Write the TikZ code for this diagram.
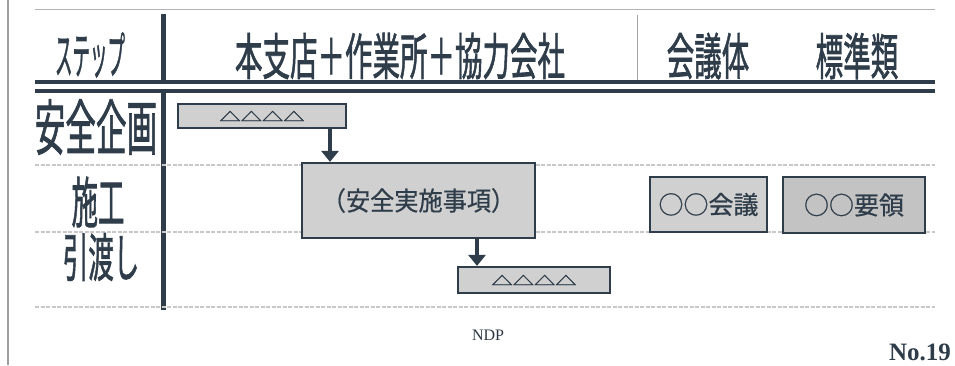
\documentclass[tikz,border=0pt]{standalone}
\usepackage{fontspec}
\setmainfont{Liberation Serif}
\newfontfamily\jp{Noto Sans CJK JP}[FakeBold=0.6]
\newfontfamily\jpb{Noto Sans CJK JP}[FakeBold=1.6]
\usetikzlibrary{arrows.meta}
\definecolor{ink}{HTML}{2F3D4A}
\definecolor{boxfill}{HTML}{D0D0D0}
\definecolor{boxfilld}{HTML}{C3C3C3}
\definecolor{sep}{HTML}{C8C8C8}
\newcommand{\jt}[3]{\scalebox{#2}[1]{\jp\fontsize{#1}{#1}\selectfont #3}}
\newcommand{\jb}[3]{\scalebox{#2}[1]{\jpb\fontsize{#1}{#1}\selectfont #3}}
\begin{document}
\begin{tikzpicture}[x=1pt,y=-1pt,
  lbl/.style={text=ink, inner sep=0},
  box/.style={draw=ink, line width=2.2pt, fill=boxfill, inner sep=0, text=ink},
  flow/.style={draw=ink, line width=4pt, -{Triangle[width=17pt,length=11pt]}},
  rule/.style={draw=ink, line width=3.6pt},
  faint/.style={draw=sep, line width=1.4pt, dash pattern=on 4pt off 1.5pt}]
\useasboundingbox (0,0) rectangle (955,365);
\fill[white] (0,0) rectangle (955,365);
% frame lines
\draw[draw=gray!75, line width=1.6pt] (8,0) -- (8,365);
\draw[draw=gray!60, line width=1pt] (35,9) -- (935,9);
\draw[rule] (35,82) -- (935,82);
\draw[rule] (35,91) -- (935,91);
\draw[draw=ink, line width=4.5pt] (163.5,14) -- (163.5,82);
\draw[draw=ink, line width=4.5pt] (163.5,91) -- (163.5,310);
\draw[draw=gray!70, line width=1pt] (637,15) -- (637,80);
% faint row separators
\draw[faint] (35,165) -- (935,165);
\draw[faint] (35,232) -- (935,232);
\draw[faint] (35,307) -- (935,307);
% header
\node[lbl] (hst) at (90,55) {\jb{50}{0.35}{ステップ}};
\node[lbl] (hmain) at (400,56) {\jb{50}{0.55}{本支店＋作業所＋協力会社}};
\node[lbl] (hkai) at (708,56) {\jb{50}{0.55}{会議体}};
\node[lbl] (hhyo) at (857,56) {\jb{50}{0.55}{標準類}};
% row labels
\node[lbl] (r1) at (96,127) {\jb{60}{0.51}{安全企画}};
\node[lbl] (r2) at (98,202) {\jb{55}{0.48}{施工}};
\node[lbl] (r3) at (101,257) {\jb{52}{0.49}{引渡し}};
% boxes
\node[box, minimum width=168, minimum height=24] (b1) at (262,116)
  {\scalebox{0.85}[0.5]{\jpb\fontsize{25}{25}\selectfont △△△△}};
\node[box, minimum width=233, minimum height=75] (b2) at (418.5,200.5)
  {\jt{26}{0.93}{（安全実施事項）}};
\node[box, minimum width=152, minimum height=26] (b3) at (534,280)
  {\scalebox{0.85}[0.5]{\jpb\fontsize{25}{25}\selectfont △△△△}};
\node[box, minimum width=117, minimum height=55] (b4) at (708.5,204.5)
  {\jt{25}{1}{○○会議}};
\node[box, fill=boxfilld, minimum width=142, minimum height=56] (b5) at (854,205)
  {\jt{25}{1}{○○要領}};
% arrows
\coordinate (ax1) at (330,0);
\coordinate (ax2) at (477,0);
\draw[flow] (b1.south -| ax1) -- (b2.north -| ax1);
\draw[flow] (b2.south -| ax2) -- (b3.north -| ax2);
% footer
\node[anchor=base, text=ink!90!black, inner sep=0, font=\fontsize{16}{16}\selectfont] (ndp) at (488,340) {NDP};
\node[anchor=base east, text=ink, inner sep=0, font=\bfseries\fontsize{25}{25}\selectfont] (no) at (951,360) {No.19};
\end{tikzpicture}
\end{document}
